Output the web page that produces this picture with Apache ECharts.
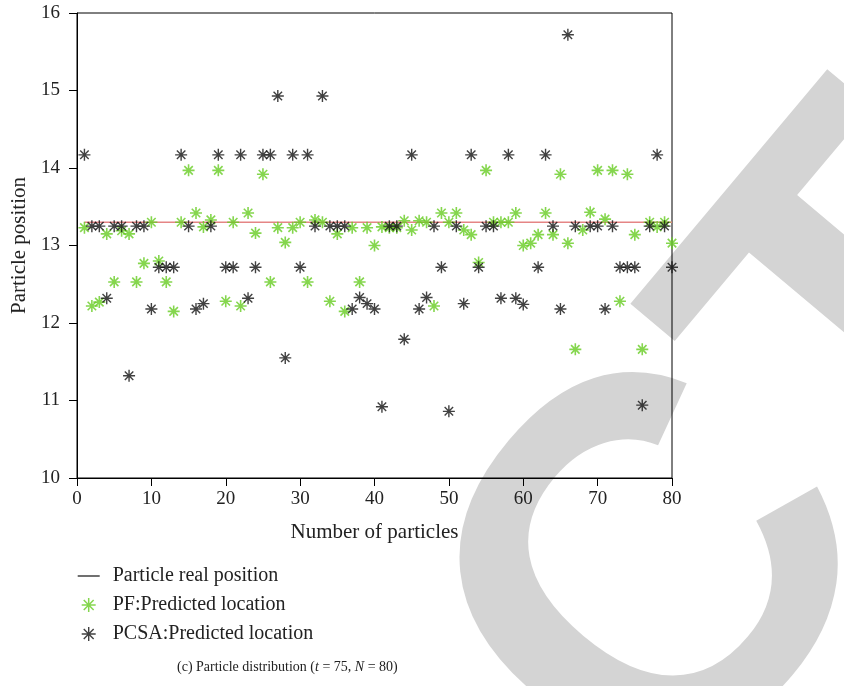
<!DOCTYPE html>
<html>
<head>
<meta charset="utf-8">
<script src="https://cdn.jsdelivr.net/npm/echarts@6/dist/echarts.min.js"></script>
<style>html,body{margin:0;padding:0;background:#fff;}#c{width:844px;height:686px;}</style>
</head>
<body>
<div id="c"></div>
<script>
// particle index 1..80
var particleIdx = [];
for (var k = 1; k <= 80; k++) particleIdx.push(k);

var realPosition = 13.3;

var pfValues = [
 13.23,12.22,12.27,13.15,12.53,13.19,13.15,12.53,12.77,13.30,
 12.80,12.53,12.15,13.30,13.97,13.42,13.24,13.33,13.97,12.28,
 13.30,12.22,13.42,13.16,13.92,12.53,13.23,13.04,13.23,13.30,
 12.53,13.33,13.30,12.28,13.15,12.15,13.23,12.53,13.23,13.00,
 13.24,13.23,13.23,13.32,13.20,13.32,13.30,12.22,13.42,13.30,
 13.42,13.20,13.14,12.78,13.97,13.30,13.30,13.30,13.42,13.00,
 13.03,13.14,13.42,13.14,13.92,13.03,11.66,13.20,13.43,13.97,
 13.34,13.97,12.28,13.92,13.14,11.66,13.30,13.24,13.30,13.03
];

var pcsaValues = [
 14.17,13.25,13.25,12.32,13.25,13.25,11.32,13.25,13.25,12.18,
 12.72,12.72,12.72,14.17,13.25,12.18,12.25,13.25,14.17,12.72,
 12.72,14.17,12.32,12.72,14.17,14.17,14.93,11.55,14.17,12.72,
 14.17,13.25,14.93,13.25,13.25,13.25,12.18,12.33,12.25,12.18,
 10.92,13.25,13.25,11.79,14.17,12.18,12.33,13.25,12.72,10.86,
 13.25,12.25,14.17,12.72,13.25,13.25,12.32,14.17,12.32,12.24,
 null,12.72,14.17,13.25,12.18,15.72,13.25,null,13.25,13.25,
 12.18,13.25,12.72,12.72,12.72,10.94,13.25,14.17,13.25,12.72
];

var xTicks = [0,10,20,30,40,50,60,70,80];
var yTicks = [10,11,12,13,14,15,16];

var FONT = 'Liberation Serif';
var STAR = 'path://M10,0V20M0,10H20M2.93,2.93L17.07,17.07M2.93,17.07L17.07,2.93';
var LINE_ICON = 'path://M0,0M0,14M0,7H22M22,14';

function pairs(vals) {
  var out = [];
  for (var i = 0; i < particleIdx.length; i++) {
    out.push([particleIdx[i], vals[i] == null ? null : vals[i]]);
  }
  return out;
}
var realLine = particleIdx.map(function (x) { return [x, realPosition]; });

// watermark placement (decorative)
var wmAngle = 50 * Math.PI / 180;
var wmSize = 520;
var wmC = [670, 590];
var wmOffset = 3.805 * wmSize; // distance from text start to centre of the "C"
var wmX = wmC[0] - wmOffset * Math.cos(wmAngle);
var wmY = wmC[1] + wmOffset * Math.sin(wmAngle);

var chart = echarts.init(document.getElementById('c'), null, {renderer: 'canvas'});
chart.setOption({
  animation: false,
  backgroundColor: '#fff',
  graphic: [{
    type: 'text', silent: true, z: -10, zlevel: 0,
    x: wmX, y: wmY, rotation: wmAngle,
    style: {text: 'RETRACTED', x: 0, y: 0, fontFamily: 'Liberation Sans', fontWeight: 'bold',
      fontSize: wmSize, fill: '#d4d4d4', align: 'left', verticalAlign: 'middle'}
  }],
  grid: {left: 77, right: 172, top: 13, bottom: 208, show: true, borderColor: '#000', borderWidth: 1, backgroundColor: 'transparent'},
  title: {
    left: 172, top: 655,
    text: '(c) Particle distribution ({i|t} = 75, {i|N} = 80)',
    textStyle: {fontFamily: FONT, fontSize: 14, fontWeight: 'normal', color: '#222',
      rich: {i: {fontFamily: FONT, fontSize: 14, fontStyle: 'italic', color: '#222'}}}
  },
  legend: {
    orient: 'vertical', left: 72, top: 561,
    itemWidth: 22, itemHeight: 14, itemGap: 9,
    textStyle: {fontFamily: FONT, fontSize: 20, color: '#222', padding: [0, 0, 0, 8]},
    data: [
      {name: 'Particle real position', icon: LINE_ICON,
        itemStyle: {color: 'transparent', borderColor: '#333', borderWidth: 1.4}},
      {name: 'PF:Predicted location', itemStyle: {borderWidth: 1.5}},
      {name: 'PCSA:Predicted location', itemStyle: {borderWidth: 1.4}}
    ]
  },
  xAxis: {
    type: 'value', min: 0, max: 80, interval: 10,
    name: 'Number of particles', nameLocation: 'middle', nameGap: 44,
    nameTextStyle: {fontFamily: FONT, fontSize: 21, color: '#222'},
    axisLine: {show: true, lineStyle: {color: '#000', width: 1}},
    axisTick: {show: true, length: 8, lineStyle: {color: '#000'}},
    axisLabel: {fontFamily: FONT, fontSize: 19, color: '#222', margin: 12,
      customValues: xTicks},
    splitLine: {show: false}
  },
  yAxis: {
    type: 'value', min: 10, max: 16, interval: 1,
    name: 'Particle position', nameLocation: 'middle', nameGap: 47,
    nameTextStyle: {fontFamily: FONT, fontSize: 21, color: '#222'},
    axisLine: {show: true, lineStyle: {color: '#000', width: 1}},
    axisTick: {show: true, length: 8, lineStyle: {color: '#000'}},
    axisLabel: {fontFamily: FONT, fontSize: 19, color: '#222', margin: 17,
      customValues: yTicks},
    splitLine: {show: false}
  },
  series: [
    {
      name: 'Particle real position', type: 'line', data: realLine,
      symbol: 'none', showSymbol: false,
      lineStyle: {color: '#e58585', width: 1.5}, z: 2
    },
    {
      name: 'PF:Predicted location', type: 'scatter', data: pairs(pfValues),
      symbol: STAR, symbolSize: 12,
      itemStyle: {color: 'transparent', borderColor: '#66cc22', borderWidth: 1.6}, z: 3
    },
    {
      name: 'PCSA:Predicted location', type: 'scatter', data: pairs(pcsaValues),
      symbol: STAR, symbolSize: 12,
      itemStyle: {color: 'transparent', borderColor: '#111111', borderWidth: 1.4}, z: 4
    }
  ]
});
</script>
</body>
</html>
